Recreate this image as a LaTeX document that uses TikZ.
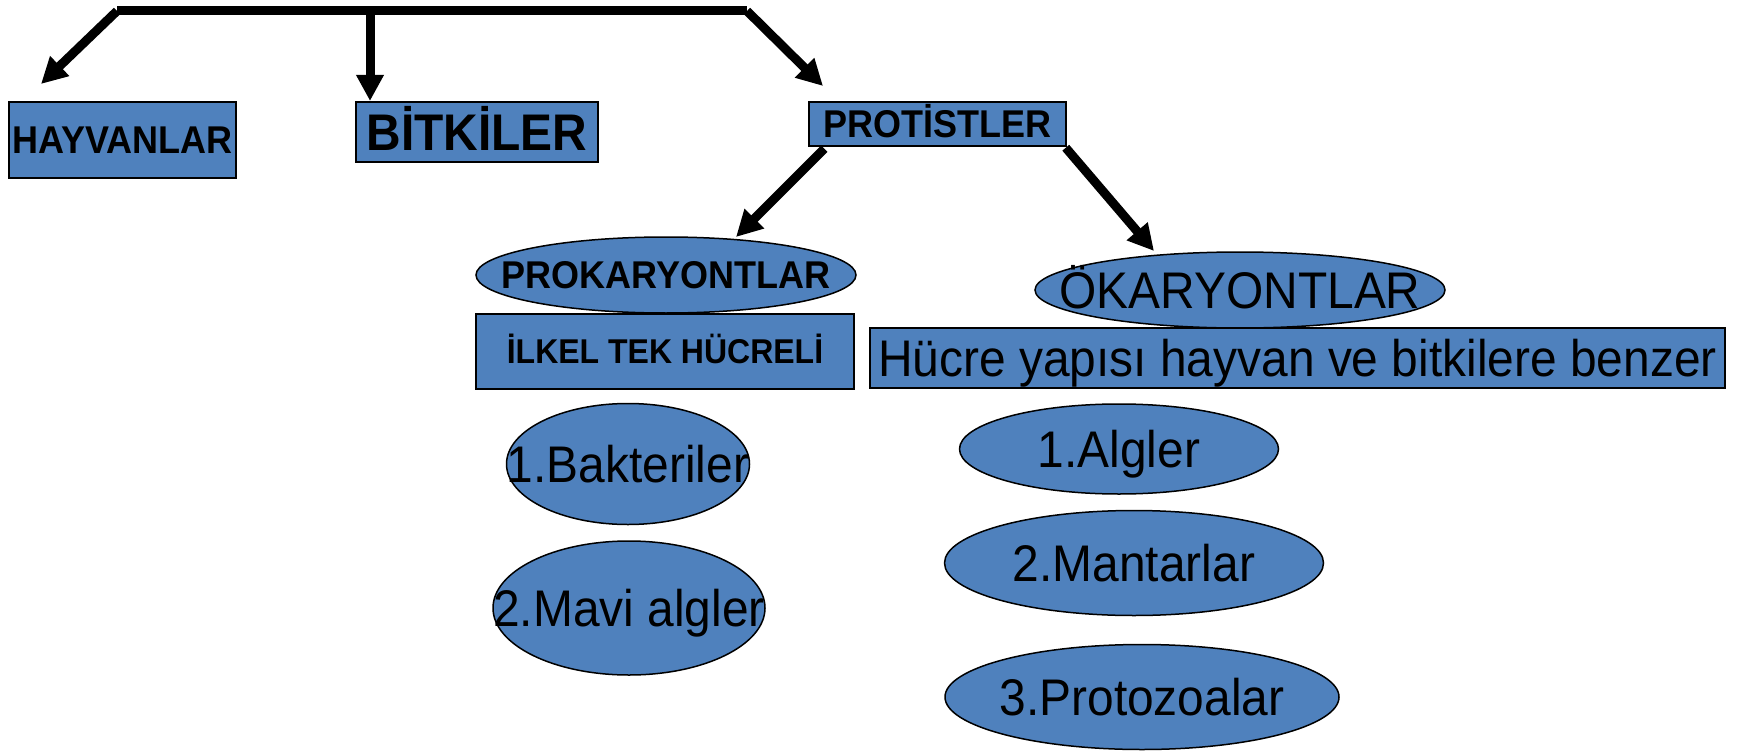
\documentclass[tikz,border=0pt]{standalone}
\usepackage{fontspec}
\setmainfont{Liberation Sans}[FakeStretch=0.93]
\usetikzlibrary{arrows.meta,shapes.geometric}
\definecolor{boxblue}{HTML}{4F81BD}
\newcommand\szL{\fontsize{51.5}{55}\selectfont}
\newcommand\szLB{\fontsize{51.5}{55}\selectfont\bfseries}
\newcommand\szM{\fontsize{38.7}{42}\selectfont\bfseries}
\newcommand\szS{\fontsize{34.4}{38}\selectfont\bfseries}
\begin{document}
\begin{tikzpicture}[x=1pt,y=-1pt,
  shp/.style={draw=black, line width=1.5pt, fill=boxblue, inner sep=0pt, text depth=0pt},
  box/.style={shp, rectangle},
  ell/.style={shp, ellipse},
  tL/.style={font=\szL, text height=36.9pt},
  tLB/.style={font=\szLB, text height=36.9pt},
  tM/.style={font=\szM, text height=27.7pt},
  tS/.style={font=\szS, text height=24.6pt},
  conn/.style={line width=9pt, -{Triangle[length=26pt,width=26pt]}},
  topbar/.style={line width=9pt}]
\useasboundingbox (0,0) rectangle (1744,754);

% top bar
\coordinate (bl) at (117,11);
\coordinate (bm) at (370,11);
\coordinate (br) at (747,11);
\draw[topbar] (bl) -- (br);

% top level boxes
\node[box, tM, minimum width=227, minimum height=76] (hay) at (122.5,140) {HAYVANLAR};
\node[box, tLB, minimum width=242, minimum height=60] (bit) at (477,132) {BİTKİLER};
\node[box, tM, minimum width=257, minimum height=44] (pro) at (937.5,124) {PROTİSTLER};

\coordinate (tH) at (41,84);
\coordinate (tB) at (370,101);
\coordinate (tP) at (823,86);
\draw[conn] (bl) -- (tH);
\draw[conn] (bm) -- (tB);
\draw[conn] (br) -- (tP);

% prokaryotes
\node[ell, tM, minimum width=380, minimum height=76] (prok) at (666,275) {\makebox[0pt]{PROKARYONTLAR}};
\node[box, tS, minimum width=378, minimum height=75] (ilk) at (665,351.5) {İLKEL TEK HÜCRELİ};
\node[ell, tL, minimum width=243, minimum height=121] (bak) at (628,464) {\makebox[0pt]{1.Bakteriler}};
\node[ell, tL, minimum width=272, minimum height=134] (mav) at (629,608) {\makebox[0pt]{2.Mavi algler}};

% eukaryotes
\node[ell, tL, minimum width=410, minimum height=76] (ok) at (1240,290) {\makebox[0pt]{ÖKARYONTLAR}};
\node[box, tL, minimum width=855, minimum height=60] (huc) at (1297.5,358) {Hücre yapısı hayvan ve bitkilere benzer};
\node[ell, tL, minimum width=319, minimum height=90] (alg) at (1119,449) {\makebox[0pt]{1.Algler}};
\node[ell, tL, minimum width=379, minimum height=105] (man) at (1134,563) {\makebox[0pt]{2.Mantarlar}};
\node[ell, tL, minimum width=394, minimum height=105] (prz) at (1142,697) {\makebox[0pt]{3.Protozoalar}};

% arrows from PROTISTLER
\coordinate (tK) at (736,237);
\coordinate (tO) at (1154,251);
\draw[conn] ([xshift=16pt,yshift=-2pt]pro.south west) -- (tK);
\draw[conn] ([xshift=-1pt,yshift=-1pt]pro.south east) -- (tO);
\end{tikzpicture}
\end{document}
